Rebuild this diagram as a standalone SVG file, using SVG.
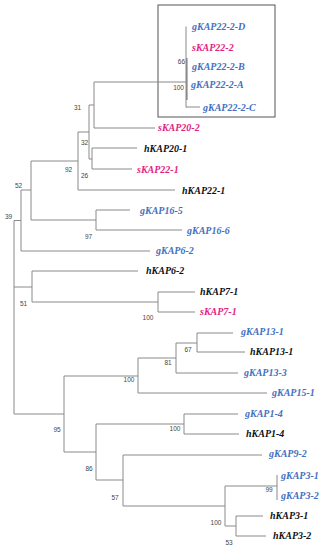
<svg xmlns="http://www.w3.org/2000/svg" width="323" height="550" viewBox="0 0 323 550">
<style>
.e{stroke:#8a8a8a;stroke-width:1;fill:none}
.t{font-family:"Liberation Serif",serif;font-weight:bold;font-style:italic;font-size:10px;dominant-baseline:central}
.g{fill:#4470c0}.s{fill:#e3237f}.h{fill:#111}
.b{font-family:"Liberation Sans",sans-serif;font-size:6.5px;fill:#444;dominant-baseline:central}
</style>
<rect width="323" height="550" fill="#fff"/>
<rect id="box" x="158" y="5" width="117" height="112" fill="none" stroke="#555" stroke-width="1"/>
<g id="connectors" class="e">
<path d="M186 26.5V107.5M186 107H200"/>
<path d="M186.8 58V100" stroke-width="1.6"/>
<path d="M94 82H186M94 82V128H155"/>
<path d="M89 105H94M89 105V159H92"/>
<path d="M92 148H137M92 148V169H132"/>
<path d="M78 132H89M78 132V190H175"/>
<path d="M31 161H78M31 161V220H96"/>
<path d="M96 210H130M96 210V230H182"/>
<path d="M21 190H31M21 190V251H150"/>
<path d="M14 220.5H21M14 220.5V414H64"/>
<path d="M14 287H32M32 271V302M32 271H138M32 302H158"/>
<path d="M158 292V312M158 292H195M158 312H195"/>
<path d="M64 376V452M64 376H138M138 358V393M138 393H267"/>
<path d="M138 358H176M176 343V373M176 373H238M176 343H197"/>
<path d="M197 333V352M197 333H233M197 352H245"/>
<path d="M64 452H96M96 424V480M96 424H184M184 414V434M184 414H238M184 434H239"/>
<path d="M96 480H123M123 455V506M123 455H262M123 506H225"/>
<path d="M225 486V526M225 486H277M277 475V500"/>
<path d="M225 526H236M236 516V536M236 516H263M236 536H266"/>
</g>
<g id="n-gKAP22-2-D"><text class="t g" x="192" y="26">gKAP22-2-D</text></g>
<g id="n-sKAP22-2"><text class="t s" x="192" y="47">sKAP22-2</text></g>
<g id="n-gKAP22-2-B"><text class="t g" x="192" y="66">gKAP22-2-B</text></g>
<g id="n-gKAP22-2-A"><text class="t g" x="191" y="84">gKAP22-2-A</text></g>
<g id="n-gKAP22-2-C"><text class="t g" x="203" y="107">gKAP22-2-C</text></g>
<g id="n-sKAP20-2"><text class="t s" x="158" y="127">sKAP20-2</text></g>
<g id="n-hKAP20-1"><text class="t h" x="144" y="148">hKAP20-1</text></g>
<g id="n-sKAP22-1"><text class="t s" x="137" y="169">sKAP22-1</text></g>
<g id="n-hKAP22-1"><text class="t h" x="182" y="190">hKAP22-1</text></g>
<g id="n-gKAP16-5"><text class="t g" x="140" y="210">gKAP16-5</text></g>
<g id="n-gKAP16-6"><text class="t g" x="187" y="230">gKAP16-6</text></g>
<g id="n-gKAP6-2"><text class="t g" x="156" y="250">gKAP6-2</text></g>
<g id="n-hKAP6-2"><text class="t h" x="146" y="270">hKAP6-2</text></g>
<g id="n-hKAP7-1"><text class="t h" x="200" y="291">hKAP7-1</text></g>
<g id="n-sKAP7-1"><text class="t s" x="200" y="311">sKAP7-1</text></g>
<g id="n-gKAP13-1"><text class="t g" x="241" y="331">gKAP13-1</text></g>
<g id="n-hKAP13-1"><text class="t h" x="250" y="351">hKAP13-1</text></g>
<g id="n-gKAP13-3"><text class="t g" x="244" y="372">gKAP13-3</text></g>
<g id="n-gKAP15-1"><text class="t g" x="272" y="392">gKAP15-1</text></g>
<g id="n-gKAP1-4"><text class="t g" x="245" y="413">gKAP1-4</text></g>
<g id="n-hKAP1-4"><text class="t h" x="246" y="433">hKAP1-4</text></g>
<g id="n-gKAP9-2"><text class="t g" x="269" y="453">gKAP9-2</text></g>
<g id="n-gKAP3-1"><text class="t g" x="281" y="475">gKAP3-1</text></g>
<g id="n-gKAP3-2"><text class="t g" x="281" y="495">gKAP3-2</text></g>
<g id="n-hKAP3-1"><text class="t h" x="270" y="515">hKAP3-1</text></g>
<g id="n-hKAP3-2"><text class="t h" x="273" y="535">hKAP3-2</text></g>
<g id="bootstrap">
<text class="b" x="185" y="61" text-anchor="end">66</text>
<text class="b" x="184" y="87" text-anchor="end">100</text>
<text class="b" x="74" y="107">31</text>
<text class="b" x="81" y="142">32</text>
<text class="b" x="65" y="169">92</text>
<text class="b" x="81" y="175">26</text>
<text class="b" x="15" y="185">52</text>
<text class="b" x="5" y="216">39</text>
<text class="b" x="85" y="236">97</text>
<text class="b" x="20" y="303">51</text>
<text class="b" x="148" y="317" text-anchor="middle">100</text>
<text class="b" x="188" y="349" text-anchor="middle">67</text>
<text class="b" x="168" y="362" text-anchor="middle">81</text>
<text class="b" x="129" y="379" text-anchor="middle">100</text>
<text class="b" x="175" y="428" text-anchor="middle">100</text>
<text class="b" x="57" y="429" text-anchor="middle">95</text>
<text class="b" x="89" y="468" text-anchor="middle">86</text>
<text class="b" x="269" y="489" text-anchor="middle">99</text>
<text class="b" x="115" y="497" text-anchor="middle">57</text>
<text class="b" x="216" y="522" text-anchor="middle">100</text>
<text class="b" x="229" y="542" text-anchor="middle">53</text>
</g>
</svg>
